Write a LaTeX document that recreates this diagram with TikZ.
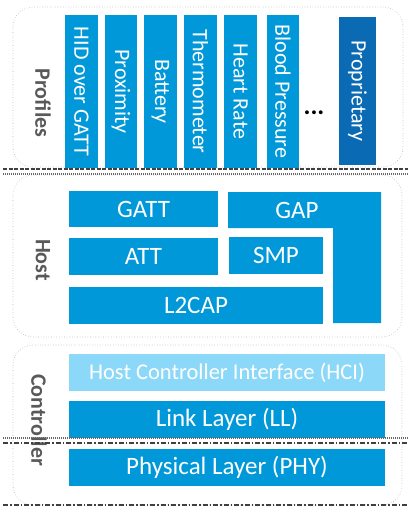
\documentclass[tikz,border=0pt]{standalone}
\usepackage{fontspec}
\setmainfont{Carlito}
\definecolor{bleblue}{HTML}{0098D8}
\definecolor{bledark}{HTML}{0A6AB4}
\definecolor{blelight}{HTML}{8CD8F8}
\definecolor{lblgray}{HTML}{595959}
\begin{document}
\begin{tikzpicture}[x=1pt,y=-1pt,
  blk/.style={fill=bleblue,inner sep=0pt,text=white,font=\fontsize{25}{27}\selectfont},
  col/.style={blk,rotate=-90,font=\fontsize{22}{24}\selectfont},
  layer/.style={draw=gray!60,dotted,line width=0.6pt,rounded corners=20pt},
  lbl/.style={rotate=-90,text=lblgray,font=\fontsize{22}{24}\selectfont\bfseries},
  sepdash/.style={draw=black!75,line width=1.3pt,dash pattern=on 4pt off 1.5pt},
  sepdot/.style={draw=black!60,line width=1.1pt,dash pattern=on 1pt off 1pt},
  sepdashdot/.style={draw=black!75,line width=1.2pt,dash pattern=on 5pt off 2pt on 1.5pt off 2pt}]
\useasboundingbox (0,0) rectangle (417,512);
% layer frames
\draw[layer] (13,7) rectangle (403,167);
\draw[layer] (13,175) rectangle (402,337);
\draw[layer] (13,345) rectangle (402,505);
% labels
\node[lbl] (lprof) at (43,103) {Profiles};
\node[lbl] (lhost) at (43,260) {Host};
\node[lbl] (lctrl) at (39,420) {Controller};
% profiles
\node[col,minimum width=153pt,minimum height=33pt] (hid) at (81.5,91.5) {HID over GATT};
\node[col,minimum width=153pt,minimum height=32pt] (prox) at (121,91.5) {Proximity};
\node[col,minimum width=153pt,minimum height=33pt] (batt) at (160.5,91.5) {Battery};
\node[col,minimum width=153pt,minimum height=33pt] (therm) at (200.5,91.5) {Thermometer};
\node[col,minimum width=153pt,minimum height=33pt] (heart) at (240.5,91.5) {Heart Rate};
\node[col,minimum width=153pt,minimum height=32pt] (blood) at (283,91.5) {Blood Pressure};
\node[font=\fontsize{26}{28}\selectfont\bfseries,inner sep=0pt] (dots) at (314,113) {...};
\node[col,fill=bledark,minimum width=148pt,minimum height=37pt] (prop) at (357.5,91) {Proprietary};
% separators profiles/host
\draw[sepdash] (3,169) -- (408,169);
\draw[sepdot] (3,174) -- (408,174);
% host
\node[blk,minimum width=149pt,minimum height=36pt] (gatt) at (143.5,209) {GATT};
\fill[bleblue] (228,192) -- (381,192) -- (381,323) -- (333,323) -- (333,228) -- (228,228) -- cycle;
\node[blk,fill=none] (gap) at (297,210) {GAP};
\node[blk,minimum width=149pt,minimum height=37pt] (att) at (143.5,256.5) {ATT};
\node[blk,minimum width=94pt,minimum height=37pt] (smp) at (276,255.5) {SMP};
\node[blk,minimum width=254pt,minimum height=37pt] (l2cap) at (196,305.5) {L2CAP};
% controller
\node[blk,fill=blelight,minimum width=316pt,minimum height=37pt,font=\fontsize{22.5}{24}\selectfont] (hci) at (227,372.5) {Host Controller Interface (HCI)};
\node[blk,minimum width=316pt,minimum height=37pt] (ll) at (227,419.5) {Link Layer (LL)};
\node[blk,minimum width=316pt,minimum height=37pt] (phy) at (227,467.5) {Physical Layer (PHY)};
% separators
\draw[sepdot] (3,438) -- (408,438);
\draw[sepdashdot] (3,443) -- (408,443);
\draw[sepdashdot] (3,505) -- (408,505);
\end{tikzpicture}
\end{document}
